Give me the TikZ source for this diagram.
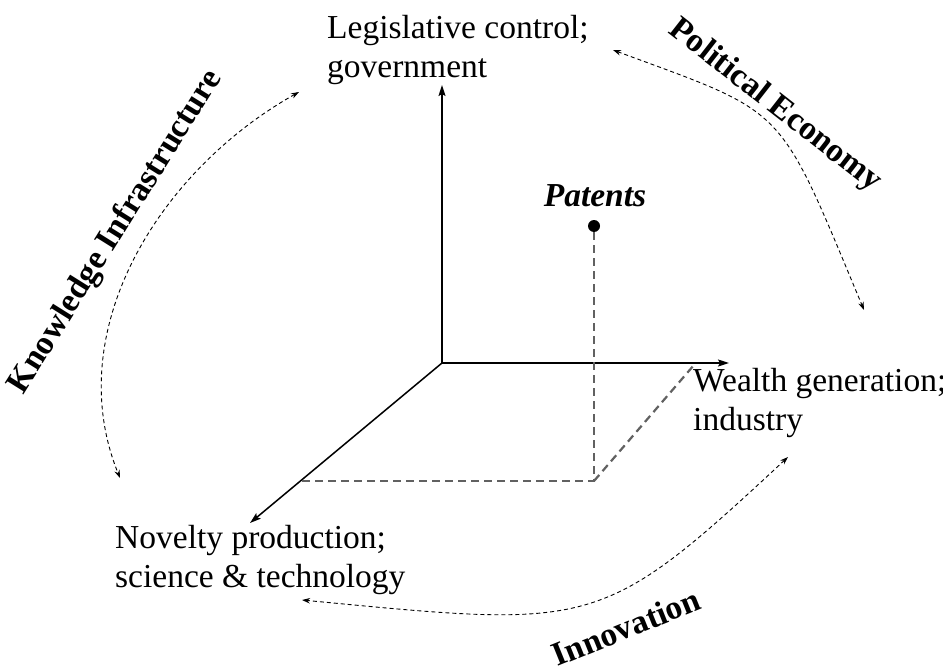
\documentclass[tikz,border=0pt]{standalone}
\usepackage{fontspec}
\setmainfont{Liberation Serif}
\usetikzlibrary{arrows.meta}
\begin{document}
\begin{tikzpicture}[x=1pt,y=-1pt,
  axis/.style={line width=1.5pt,-{Stealth[length=11pt,width=7pt,inset=2pt]}},
  proj/.style={line width=2.2pt,draw=black!62,dash pattern=on 8pt off 5pt},
  flow/.style={line width=0.9pt,dash pattern=on 4pt off 3pt,{Stealth[length=8pt,width=5.5pt]}-{Stealth[length=8pt,width=5.5pt]}},
  lbl/.style={inner sep=0pt,align=left,font=\fontsize{33.5}{39.5}\selectfont},
  theme/.style={inner sep=0pt,font=\fontsize{33.5}{39}\selectfont\bfseries}]
\useasboundingbox (0,0) rectangle (943,666);
% axes
\coordinate (O) at (442,363);
\coordinate (top) at (442,85);
\coordinate (right) at (729,363);
\coordinate (bl) at (250,523);
\draw[axis] (O) -- (top);
\draw[axis] (O) -- (right);
\draw[axis] (O) -- (bl);
% patents point and projections
\node[circle,fill=black,inner sep=0pt,minimum size=12pt] (pat) at (594,226) {};
\node[anchor=base,inner sep=0pt,font=\fontsize{33.5}{39.5}\selectfont\bfseries\itshape] (patl) at (595,207) {Patents};
\coordinate (foot) at (594,481);
\coordinate (onbl) at (302,481);
\coordinate (onright) at (694,365);
\draw[proj] (pat) -- (foot) -- (onbl);
\draw[proj] (foot) -- (onright);
% axis labels
\node[lbl,anchor=north west] (leg) at (327,15) {Legislative control;\\government};
\node[lbl,anchor=north west] (wealth) at (693,368) {Wealth generation;\\industry};
\node[lbl,anchor=north west] (nov) at (115,525) {Novelty production;\\science \& technology};
% theme labels
\node[theme,rotate=-38] (pe) at (775,106) {Political Economy};
\node[theme,rotate=58] (ki) at (116,232) {Knowledge Infrastructure};
\node[theme,rotate=22] (inn) at (626,627) {Innovation};
% flows
\coordinate (pe1) at (613,50);
\coordinate (pe2) at (864,310);
\draw[flow] (pe1) .. controls (789,115) and (777,102) .. (pe2);
\coordinate (ki1) at (299,92);
\coordinate (ki2) at (120,478);
\draw[flow] (ki1) .. controls (160,170) and (60,330) .. (ki2);
\coordinate (in1) at (788,457);
\coordinate (in2) at (302,600);
\draw[flow] (in1) .. controls (600,632) and (594,628) .. (in2);
\end{tikzpicture}
\end{document}
